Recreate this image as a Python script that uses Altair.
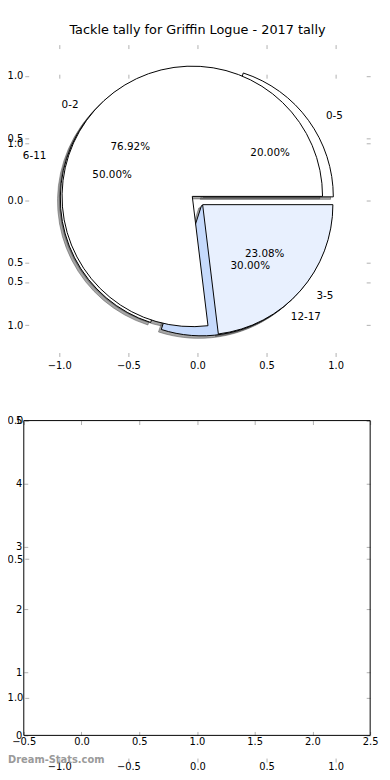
import math
import altair as alt
import pandas as pd

TITLE = "Tackle tally for Griffin Logue - 2017 tally"
WATERMARK = "Dream-Stats.com"

pie1_labels = ["0-2", "3-5"]
pie1_values = [10, 3]
pie2_labels = ["0-5", "6-11", "12-17"]
pie2_values = [2, 5, 3]

slice_names = ["0-2", "3-5", "0-5", "6-11", "12-17"]
slice_colors = ["#ffffff", "#e8f0fe", "#ffffff", "#ffffff", "#c6dafc"]

pie_ticks = [-1.0, -0.5, 0.0, 0.5, 1.0]
pie_limits = [-1.25, 1.25]
bar_x_ticks = [-0.5, 0.0, 0.5, 1.0, 1.5, 2.0, 2.5]
bar_y_ticks = [0, 1, 2, 3, 4, 5]
bar_x_limits = [-0.5, 2.5]
bar_y_limits = [0, 5]

# ---- layout / style (pixels inside the view) ----
W, H = 350, 724
PIE_Y_RANGE = [316, 0]
BIG_Y_RANGE = [732, 30]
BAR_X_RANGE = [-1, 350]
BAR_Y_RANGE = [700, 381]
R_PX = 132
EXPLODE = 0.05
SHADOW = -0.02
TICK_GRAY = "#b0b0b0"
FONT = "DejaVu Sans"


def sc(domain, rng):
    return alt.Scale(domain=domain, range=rng, nice=False, zero=False)


def pie_df(labels, values):
    return pd.DataFrame({"label": labels, "value": values, "order": list(range(len(labels)))})


def pie_base(df):
    return (
        alt.Chart(df)
        .transform_stack(stack="value", as_=["s0", "s1"], groupby=[], offset="normalize",
                         sort=[alt.SortField("order", order="ascending")])
        .transform_calculate(mid="PI*(datum.s0+datum.s1)")
        .transform_calculate(cx=f"{EXPLODE}*cos(datum.mid)", cy=f"{EXPLODE}*sin(datum.mid)")
    )


def pos(xf, yf):
    return dict(
        x=alt.X(xf, type="quantitative", scale=sc(pie_limits, [0, W]), axis=None),
        y=alt.Y(yf, type="quantitative", scale=sc(pie_limits, PIE_Y_RANGE), axis=None),
    )


THETA = dict(
    theta=alt.Theta("s0:Q", scale=alt.Scale(domain=[0, 1], range=[2.5 * math.pi, 0.5 * math.pi])),
    theta2=alt.Theta2("s1"),
)


def shadows(df):
    b = pie_base(df).transform_calculate(ax=f"datum.cx+({SHADOW})", ay=f"datum.cy+({SHADOW})")
    return b.mark_arc(radius=R_PX, fill="#4d4d4d", fillOpacity=0.5, stroke="#4d4d4d",
                      strokeOpacity=0.5, strokeWidth=1).encode(**pos("ax", "ay"), **THETA)


def wedges(df):
    b = pie_base(df).transform_calculate(ax="datum.cx", ay="datum.cy")
    return b.mark_arc(radius=R_PX, stroke="black", strokeWidth=1).encode(
        **pos("ax", "ay"), **THETA,
        fill=alt.Fill("label:N", scale=alt.Scale(domain=slice_names, range=slice_colors), legend=None),
    )


def texts(df):
    b = pie_base(df).transform_calculate(
        lx="datum.cx+1.1*cos(datum.mid)",
        ly="datum.cy+1.1*sin(datum.mid)",
        px="datum.cx+0.6*cos(datum.mid)",
        py="datum.cy+0.6*sin(datum.mid)",
        pct="format((datum.s1-datum.s0)*100,'.2f')+'%'",
    )
    st = dict(font=FONT, fontSize=10.5, color="black", baseline="middle")
    right = b.transform_filter("datum.lx >= 0").mark_text(align="left", **st).encode(
        **pos("lx", "ly"), text="label:N")
    left = b.transform_filter("datum.lx < 0").mark_text(align="right", **st).encode(
        **pos("lx", "ly"), text="label:N")
    pct = b.mark_text(align="center", **st).encode(**pos("px", "py"), text="pct:N")
    return [right, left, pct]


AX = dict(tickSize=4, tickColor=TICK_GRAY, tickWidth=1, domain=False, grid=False, title=None,
          labelFont=FONT, labelFontSize=10, labelColor="black", labelFlush=False, labelOverlap=False)
ABS = "format(abs(datum.value), '.1f')"


def axis_layer(df, xs, ys, xaxis, yaxis):
    return alt.Chart(df).mark_point(opacity=0).encode(
        x=alt.X("x:Q", scale=xs, axis=xaxis),
        y=alt.Y("y:Q", scale=ys, axis=yaxis),
    )


pie_tick_df = pd.DataFrame({"x": pie_ticks, "y": pie_ticks})
bar_lim_df = pd.DataFrame({"x": bar_x_limits, "y": bar_y_limits})

big_main = axis_layer(
    pie_tick_df, sc(pie_limits, [0, W]), sc(pie_limits, BIG_Y_RANGE),
    alt.Axis(orient="bottom", offset=-1, values=pie_ticks, format=".1f", labelPadding=0, **AX),
    alt.Axis(orient="left", offset=-4, values=pie_ticks, labelExpr=ABS, labelPadding=2, **AX),
)
big_opp = axis_layer(
    pie_tick_df, sc(pie_limits, [0, W]), sc(pie_limits, BIG_Y_RANGE),
    alt.Axis(orient="top", offset=-34, values=pie_ticks, labels=False, **AX),
    alt.Axis(orient="right", offset=-4, values=pie_ticks, labels=False, **AX),
)
pie_main = axis_layer(
    pie_tick_df, sc(pie_limits, [0, W]), sc(pie_limits, PIE_Y_RANGE),
    alt.Axis(orient="bottom", offset=316 - H - 4, values=pie_ticks, format=".1f", labelPadding=4, **AX),
    alt.Axis(orient="left", offset=-4, values=pie_ticks, labelExpr=ABS, labelPadding=2, **AX),
)
pie_opp = axis_layer(
    pie_tick_df, sc(pie_limits, [0, W]), sc(pie_limits, PIE_Y_RANGE),
    alt.Axis(orient="top", offset=-4, values=pie_ticks, labels=False, **AX),
    alt.Axis(orient="right", offset=-4, values=pie_ticks, labels=False, **AX),
)

bar_frame = alt.Chart(pd.DataFrame({
    "x": [bar_x_limits[0]], "x2": [bar_x_limits[1]],
    "y": [bar_y_limits[0]], "y2": [bar_y_limits[1]],
})).mark_rect(fillOpacity=0, stroke="black", strokeWidth=1).encode(
    x=alt.X("x:Q", scale=sc(bar_x_limits, BAR_X_RANGE),
            axis=alt.Axis(orient="bottom", offset=700 - H - 4, values=bar_x_ticks, format=".1f",
                          labelPadding=1, **AX)),
    x2="x2:Q",
    y=alt.Y("y:Q", scale=sc(bar_y_limits, BAR_Y_RANGE),
            axis=alt.Axis(orient="left", offset=-3, values=bar_y_ticks, format="d",
                          labelPadding=2, **AX)),
    y2="y2:Q",
)
bar_opp = axis_layer(
    bar_lim_df, sc(bar_x_limits, BAR_X_RANGE), sc(bar_y_limits, BAR_Y_RANGE),
    alt.Axis(orient="top", offset=-385, values=bar_x_ticks, labels=False, **AX),
    alt.Axis(orient="right", offset=-4, values=bar_y_ticks, labels=False, **AX),
)

watermark = alt.Chart(pd.DataFrame({"t": [WATERMARK]})).mark_text(
    align="left", baseline="middle", font=FONT, fontSize=10, fontWeight="bold", color="#9a9a9a"
).encode(x=alt.value(-17), y=alt.value(725), text="t:N")

d1 = pie_df(pie1_labels, pie1_values)
d2 = pie_df(pie2_labels, pie2_values)

layers = [big_main, big_opp, pie_main, pie_opp, bar_frame, bar_opp,
          shadows(d2), shadows(d1), wedges(d2), wedges(d1)] + texts(d2) + texts(d1) + [watermark]

chart = (
    alt.layer(*layers)
    .resolve_scale(x="independent", y="independent")
    .properties(
        width=W, height=H,
        title=alt.TitleParams(TITLE, font=FONT, fontSize=13, fontWeight="normal", color="black",
                              anchor="middle", frame="group", offset=7),
        autosize=alt.AutoSizeParams(type="none"),
        padding={"left": 17, "top": 32, "right": 12, "bottom": 8},
    )
    .configure_view(strokeWidth=0)
)

chart.save("out.html", embed_options={"renderer": "svg", "actions": False})
